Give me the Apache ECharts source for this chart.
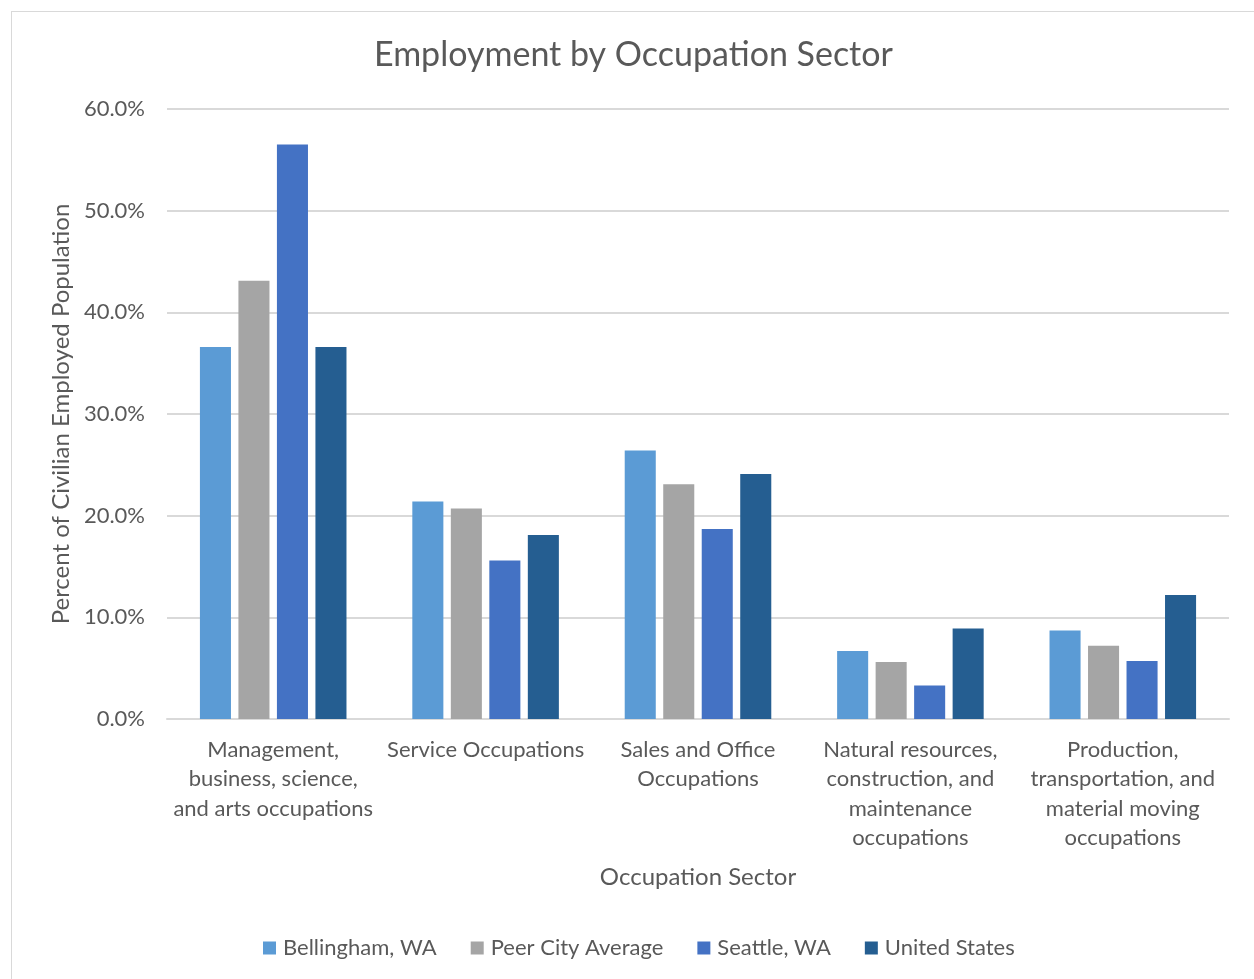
<!DOCTYPE html>
<html>
<head>
<meta charset="utf-8">
<script src="https://cdn.jsdelivr.net/npm/echarts@6/dist/echarts.min.js"></script>
<style>
  html, body { margin: 0; padding: 0; background: #fff; }
  #chartBox {
    position: absolute; left: 11px; top: 11px;
    width: 1260px; height: 980px;
    border: 1px solid #D9D9D9; box-sizing: border-box;
  }
  #main { position: absolute; left: 0; top: 0; width: 1254px; height: 979px; }
</style>
</head>
<body>
<div id="chartBox"></div>
<div id="main"></div>
<script>
  // categories and values (percent)
  var categories = [
    'Management,\nbusiness, science,\nand arts occupations',
    'Service Occupations',
    'Sales and Office\nOccupations',
    'Natural resources,\nconstruction, and\nmaintenance\noccupations',
    'Production,\ntransportation, and\nmaterial moving\noccupations'
  ];
  var seriesNames = ['Bellingham, WA', 'Peer City Average', 'Seattle, WA', 'United States'];
  var bellingham = [36.6, 21.4, 26.4, 6.7, 8.7];
  var peerAvg = [43.1, 20.7, 23.1, 5.6, 7.2];
  var seattle = [56.5, 15.6, 18.7, 3.3, 5.7];
  var unitedStates = [36.6, 18.1, 24.1, 8.9, 12.2];
  var colors = ['#5B9BD5', '#A5A5A5', '#4472C4', '#255E91'];

  var font = 'Lato, "Liberation Sans", sans-serif';
  var textColor = '#595959';

  var myChart = echarts.init(document.getElementById('main'));

  var allData = [bellingham, peerAvg, seattle, unitedStates];
  var series = [];
  for (var i = 0; i < seriesNames.length; i++) {
    series.push({
      name: seriesNames[i],
      type: 'bar',
      data: allData[i],
      barGap: '24%',
      barCategoryGap: '31%',
      itemStyle: { color: colors[i] }
    });
  }

  myChart.setOption({
    animation: false,
    textStyle: { fontFamily: font },
    title: {
      text: 'Employment by Occupation Sector',
      left: 369,
      top: 33,
      textStyle: { fontFamily: font, fontSize: 34, fontWeight: 'normal', color: textColor }
    },
    legend: {
      data: seriesNames,
      bottom: 15,
      left: 258,
      icon: 'rect',
      itemWidth: 13,
      itemHeight: 13,
      itemGap: 34,
      textStyle: { fontFamily: font, fontSize: 22, color: textColor, padding: [0, 0, 0, 2] }
    },
    grid: {
      left: 167,
      right: 25,
      top: 109,
      bottom: 260
    },
    xAxis: {
      type: 'category',
      data: categories,
      name: 'Occupation Sector',
      nameLocation: 'middle',
      nameGap: 146,
      nameTextStyle: { fontFamily: font, fontSize: 24, color: textColor },
      axisLine: { lineStyle: { color: '#D9D9D9', width: 2 } },
      axisTick: { show: false },
      axisLabel: {
        interval: 0,
        fontFamily: font,
        fontSize: 22,
        color: textColor,
        lineHeight: 29.5,
        margin: 16
      }
    },
    yAxis: {
      type: 'value',
      min: 0,
      max: 60,
      interval: 10,
      name: 'Percent of Civilian Employed Population',
      nameLocation: 'middle',
      nameGap: 93,
      nameTextStyle: { fontFamily: font, fontSize: 24, color: textColor },
      axisLine: { show: false },
      axisTick: { show: false },
      splitLine: { lineStyle: { color: '#D9D9D9', width: 2 } },
      axisLabel: {
        fontFamily: font,
        fontSize: 22,
        color: textColor,
        margin: 22,
        formatter: function (v) { return v.toFixed(1) + '%'; }
      }
    },
    series: series
  });
</script>
</body>
</html>
